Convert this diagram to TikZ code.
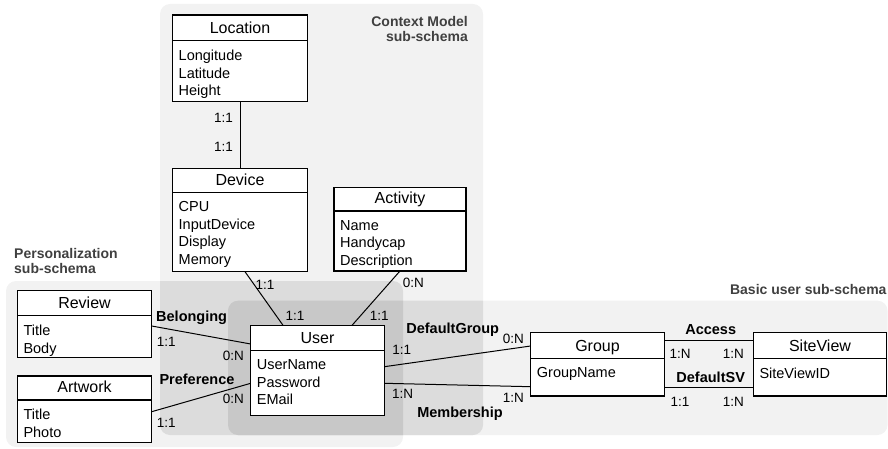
\documentclass[tikz,border=0pt]{standalone}
\usepackage{fontspec}
\setmainfont{Liberation Sans}
\usetikzlibrary{calc}
\definecolor{rlight}{HTML}{F2F2F2}
\definecolor{rmed}{HTML}{DCDCDC}
\definecolor{rdark}{HTML}{C8C8C8}
\definecolor{rlabel}{HTML}{404040}
\tikzset{
 entity/.style={draw=black, line width=1.2pt, fill=white, inner sep=0pt, outer sep=0pt, anchor=north west},
 divline/.style={line width=1.2pt},
 ttl/.style={font=\fontsize{16}{19}\selectfont, anchor=base, inner sep=0pt},
 attr/.style={font=\fontsize{14.5}{17.5}\selectfont, align=left, anchor=north west, inner sep=0pt},
 conn/.style={line width=1pt},
 card/.style={font=\fontsize{13.5}{16}\selectfont, inner sep=0pt},
 rel/.style={font=\bfseries\fontsize{14.5}{17}\selectfont, inner sep=0pt, anchor=base},
 region/.style={rounded corners=10pt},
 regtext/.style={font=\bfseries\fontsize{14}{15}\selectfont, text=rlabel, inner sep=0pt},
}
% name, x1, y1, x2, y2, divider y, title, attributes
\newcommand\erbox[8]{%
 \node[entity, minimum width={(#4-#2)*1pt}, minimum height={(#5-#3)*1pt}] (#1) at (#2,#3) {};
 \draw[divline] (#2,#6) -- (#4,#6);
 \node[ttl] (#1-title) at ({(#2+#4)/2}, #6-7.2) {#7};
 \node[attr] (#1-attrs) at (#2+6, #6+9.2) {#8};
}
\begin{document}
\begin{tikzpicture}[x=1pt,y=-1pt]
\useasboundingbox (0,0) rectangle (888,449);
% regions
\fill[rlight,region] (160,4) rectangle (483,435);
\fill[rlight,region] (6,281) rectangle (403,447);
\fill[rlight,region] (228,300.7) rectangle (887.5,435);
\begin{scope}
 \clip[region] (160,4) rectangle (483,435);
 \fill[rmed,region] (6,281) rectangle (403,447);
 \fill[rmed,region] (228,300.7) rectangle (887.5,435);
\end{scope}
\begin{scope}
 \clip[region] (160,4) rectangle (483,435);
 \clip[region] (6,281) rectangle (403,447);
 \fill[rdark,region] (228,300.7) rectangle (887.5,435);
\end{scope}
% region labels
\node[regtext, anchor=base east] (ctxa) at (468,26.9) {Context Model};
\node[regtext, anchor=base east] (ctxb) at (468,41.9) {sub-schema};
\node[regtext, anchor=base west] (pera) at (14,258.5) {Personalization};
\node[regtext, anchor=base west] (perb) at (14,273.5) {sub-schema};
\node[regtext, anchor=base east] (basa) at (886.7,294.5) {Basic user sub-schema};
% entities
\erbox{location}{172.5}{15}{307.5}{101.5}{40.7}{Location}{Longitude\\Latitude\\Height}
\erbox{device}{172.5}{168.3}{307.5}{271.7}{192.3}{Device}{CPU\\InputDevice\\Display\\Memory}
\erbox{activity}{334}{187.3}{466}{271}{211}{Activity}{Name\\Handycap\\Description}
\erbox{user}{250.7}{325.7}{384.3}{415.7}{350.3}{User}{UserName\\Password\\EMail}
\erbox{review}{17.3}{290.7}{151.7}{357.3}{315.7}{Review}{Title\\Body}
\erbox{artwork}{17.3}{376}{151.7}{442.7}{400}{Artwork}{Title\\Photo}
\erbox{group}{530.7}{332.7}{664.3}{396}{358.3}{Group}{GroupName}
\erbox{siteview}{753.3}{332.7}{886.7}{396}{358.3}{SiteView}{SiteViewID}
% connectors
\draw[conn] (location.south) -- (device.north);
\draw[conn] ($(device.south west)+(72.5,0)$) -- ($(user.north west)+(32.6,0)$);
\draw[conn] (activity.south) -- ($(user.north west)+(101,0)$);
\draw[conn] ($(review.north east)+(0,35.3)$) -- ($(user.north west)+(0,18.3)$);
\draw[conn] ($(artwork.north east)+(0,35.7)$) -- ($(user.north west)+(0,57.6)$);
\draw[conn] ($(user.north east)+(0,41)$) -- ($(group.north west)+(0,13.3)$);
\draw[conn] ($(user.north east)+(0,57.6)$) -- ($(group.north west)+(0,54)$);
\draw[conn] ($(group.north east)+(0,7.3)$) -- ($(siteview.north west)+(0,7.3)$);
\draw[conn] ($(group.north east)+(0,54.6)$) -- ($(siteview.north west)+(0,54.6)$);
% cardinalities
\node[card, anchor=east] (c1) at (233,118) {1:1};
\node[card, anchor=east] (c2) at (233,146.7) {1:1};
\node[card] (c3) at (265,285) {1:1};
\node[card] (c4) at (295,315.7) {1:1};
\node[card] (c5) at (413.3,283.3) {0:N};
\node[card] (c6) at (379.3,315.7) {1:1};
\node[card, anchor=west] (c7) at (156.7,341.7) {1:1};
\node[card] (c8) at (233.3,356) {0:N};
\node[card, anchor=west] (c9) at (156.7,423.3) {1:1};
\node[card] (c10) at (233.3,399.3) {0:N};
\node[card] (c11) at (401.7,350) {1:1};
\node[card] (c12) at (513.3,339.3) {0:N};
\node[card] (c13) at (402.7,394) {1:N};
\node[card] (c14) at (513.3,398.3) {1:N};
\node[card] (c15) at (680,354) {1:N};
\node[card] (c16) at (733.3,354) {1:N};
\node[card] (c17) at (680,401.7) {1:1};
\node[card] (c18) at (733.3,401.7) {1:N};
% relationship names
\node[rel, anchor=base west] (r1) at (156,321.9) {Belonging};
\node[rel, anchor=base west] (r2) at (159.3,384.5) {Preference};
\node[rel] (r3) at (452.7,333.5) {DefaultGroup};
\node[rel] (r4) at (460,417.9) {Membership};
\node[rel] (r5) at (710.7,334.5) {Access};
\node[rel] (r6) at (710.7,382.5) {DefaultSV};
\end{tikzpicture}
\end{document}
